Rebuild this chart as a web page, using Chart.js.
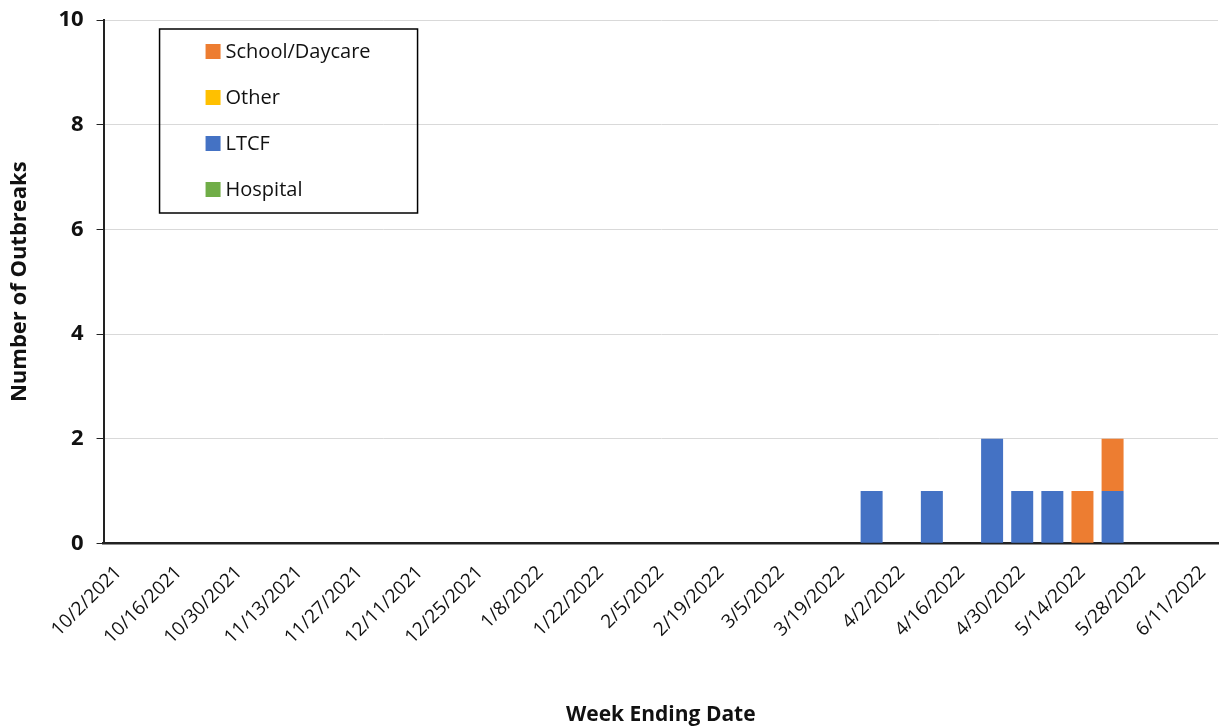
<!DOCTYPE html>
<html>
<head>
<meta charset="utf-8">
<script src="https://cdn.jsdelivr.net/npm/chart.js@4/dist/chart.umd.min.js"></script>
<style>
  html, body { margin: 0; padding: 0; background: #fff; }
  #wrap { width: 1225px; height: 728px; }
</style>
</head>
<body>
<div id="wrap"><canvas id="outbreaksChart" width="1225" height="728"></canvas></div>
<script>
// Week ending dates (one category per week)
const weeks = [
    '10/2/2021', '10/9/2021', '10/16/2021', '10/23/2021', '10/30/2021', '11/6/2021',
    '11/13/2021', '11/20/2021', '11/27/2021', '12/4/2021', '12/11/2021', '12/18/2021',
    '12/25/2021', '1/1/2022', '1/8/2022', '1/15/2022', '1/22/2022', '1/29/2022',
    '2/5/2022', '2/12/2022', '2/19/2022', '2/26/2022', '3/5/2022', '3/12/2022',
    '3/19/2022', '3/26/2022', '4/2/2022', '4/9/2022', '4/16/2022', '4/23/2022',
    '4/30/2022', '5/7/2022', '5/14/2022', '5/21/2022', '5/28/2022', '6/4/2022', '6/11/2022'
];

// Outbreak counts per week, by setting
const hospital = [0,0,0,0,0,0,0,0,0,0,0,0,0,0,0,0,0,0,0,0,0,0,0,0,0,0,0,0,0,0,0,0,0,0,0,0,0];
const ltcf     = [0,0,0,0,0,0,0,0,0,0,0,0,0,0,0,0,0,0,0,0,0,0,0,0,0,1,0,1,0,2,1,1,0,1,0,0,0];
const other    = [0,0,0,0,0,0,0,0,0,0,0,0,0,0,0,0,0,0,0,0,0,0,0,0,0,0,0,0,0,0,0,0,0,0,0,0,0];
const school   = [0,0,0,0,0,0,0,0,0,0,0,0,0,0,0,0,0,0,0,0,0,0,0,0,0,0,0,0,0,0,0,0,1,1,0,0,0];

const yTicks = [0, 2, 4, 6, 8, 10];

// Legend box drawn inside the plot, top-left
const boxLegend = {
    id: 'boxLegend',
    afterDraw(chart) {
        const ctx = chart.ctx;
        const area = chart.chartArea;
        const x = area.left + 56, y = area.top + 9, w = 258, h = 184;
        ctx.save();
        ctx.strokeStyle = '#000';
        ctx.lineWidth = 1.5;
        ctx.strokeRect(x, y, w, h);
        const items = chart.data.datasets.slice().reverse();
        ctx.font = '20px "Open Sans", sans-serif';
        ctx.textBaseline = 'middle';
        items.forEach((ds, i) => {
            const cy = y + 23 + i * 46;
            ctx.fillStyle = ds.backgroundColor;
            ctx.fillRect(x + 46, cy - 8, 15, 15);
            ctx.fillStyle = '#111';
            ctx.fillText(ds.label, x + 66, cy);
        });
        ctx.restore();
    }
};

new Chart(document.getElementById('outbreaksChart'), {
    type: 'bar',
    data: {
        labels: weeks,
        datasets: [
            { label: 'Hospital', data: hospital, backgroundColor: '#70AD47' },
            { label: 'LTCF', data: ltcf, backgroundColor: '#4472C4' },
            { label: 'Other', data: other, backgroundColor: '#FFC000' },
            { label: 'School/Daycare', data: school, backgroundColor: '#ED7D31' }
        ]
    },
    options: {
        responsive: false,
        animation: false,
        layout: { padding: { left: 7, right: 7, top: 20, bottom: 0 } },
        datasets: { bar: { barPercentage: 0.73, categoryPercentage: 1, borderWidth: 0 } },
        plugins: {
            legend: { display: false },
            tooltip: { enabled: false }
        },
        scales: {
            x: {
                stacked: true,
                afterFit: (axis) => { axis.paddingLeft = 0; axis.paddingRight = 0; },
                grid: { display: false },
                border: { display: true, color: '#222', width: 2.5 },
                ticks: {
                    autoSkip: false,
                    maxRotation: 45,
                    minRotation: 45,
                    padding: 10,
                    color: '#111',
                    font: { family: '"Open Sans", sans-serif', size: 19 },
                    callback: function (val, idx) {
                        return idx % 2 === 0 ? this.getLabelForValue(val) : '';
                    }
                },
                title: {
                    display: true,
                    text: 'Week Ending Date',
                    color: '#111',
                    font: { family: '"Open Sans", sans-serif', size: 21, weight: 'bold' },
                    padding: { top: 44, bottom: 0 }
                }
            },
            y: {
                stacked: true,
                min: 0,
                max: 10,
                afterBuildTicks: (axis) => { axis.ticks = yTicks.map(v => ({ value: v })); },
                afterFit: (axis) => { axis.paddingTop = 4; },
                grid: { color: '#d9d9d9', lineWidth: 1, tickColor: '#222', tickLength: 7 },
                border: { display: true, color: '#222', width: 2 },
                ticks: {
                    padding: 13,
                    color: '#111',
                    font: { family: '"Open Sans", sans-serif', size: 22, weight: 'bold' }
                },
                title: {
                    display: true,
                    text: 'Number of Outbreaks',
                    color: '#111',
                    font: { family: '"Open Sans", sans-serif', size: 22, weight: 'bold' },
                    padding: { top: 0, bottom: 12 }
                }
            }
        }
    },
    plugins: [boxLegend]
});
</script>
</body>
</html>
